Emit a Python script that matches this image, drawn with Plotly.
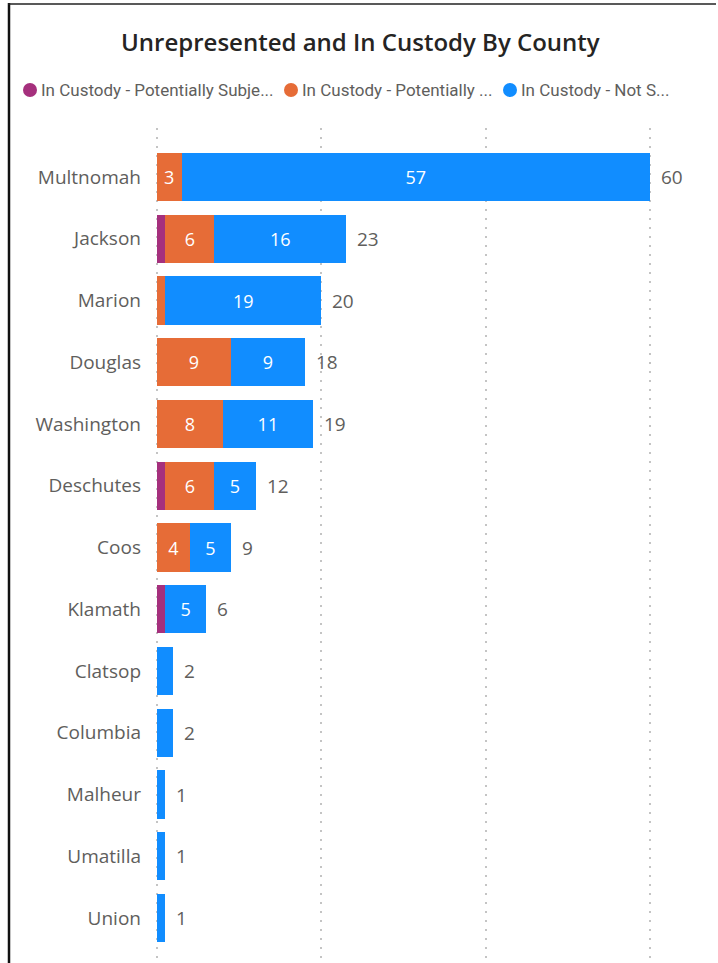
import plotly.graph_objects as go

counties = ["Multnomah", "Jackson", "Marion", "Douglas", "Washington", "Deschutes",
            "Coos", "Klamath", "Clatsop", "Columbia", "Malheur", "Umatilla", "Union"]
subject = [0, 1, 0, 0, 0, 1, 0, 1, 0, 0, 0, 0, 0]
potential = [3, 6, 1, 9, 8, 6, 4, 0, 0, 0, 0, 0, 0]
not_subject = [57, 16, 19, 9, 11, 5, 5, 5, 2, 2, 1, 1, 1]
legend_names = ["In Custody - Potentially Subje...", "In Custody - Potentially ...", "In Custody - Not S..."]
colors = ["#A5307D", "#E66C37", "#118DFF"]
totals = [a + b + c for a, b, c in zip(subject, potential, not_subject)]

W, H = 718, 963
L, R, T, B = 152, 63, 128, 0
pw, ph = W - L - R, H - T - B

def px_x(p):
    return (p - L) / pw

def px_y(p):
    return (H - B - p) / ph

fig = go.Figure()
for vals, name, col in zip([subject, potential, not_subject], legend_names, colors):
    fig.add_trace(go.Bar(
        y=counties, x=vals, orientation="h", name=name,
        marker=dict(color=col, line=dict(width=0)),
        text=[str(v) if v >= 3 else "" for v in vals],
        textposition="inside", insidetextanchor="middle", textangle=0,
        textfont=dict(color="white", size=18, family="Open Sans"),
        constraintext="none", showlegend=False,
    ))

annotations = []
for c, t in zip(counties, totals):
    annotations.append(dict(x=t, y=c, xref="x", yref="y", text=str(t), showarrow=False,
                            xanchor="left", xshift=9,
                            font=dict(size=19, color="#605E5C", family="Open Sans")))

annotations.append(dict(x=px_x(360), y=px_y(42), xref="paper", yref="paper",
                        text="Unrepresented and In Custody By County", showarrow=False,
                        xanchor="center", yanchor="middle",
                        font=dict(size=24, color="#252423", family="Open Sans", weight=600)))

shapes = []
leg_x = [30, 291, 510]
for lx, name, col in zip(leg_x, legend_names, colors):
    shapes.append(dict(type="circle", xref="paper", yref="paper",
                       x0=px_x(lx - 7), x1=px_x(lx + 7), y0=px_y(90 - 7), y1=px_y(90 + 7),
                       fillcolor=col, line=dict(width=0)))
    annotations.append(dict(x=px_x(lx + 9), y=px_y(90), xref="paper", yref="paper",
                            text=name, showarrow=False, xanchor="left", yanchor="middle",
                            font=dict(size=17, color="#605E5C", family="Roboto")))

# frame
shapes.append(dict(type="line", xref="paper", yref="paper", x0=px_x(9), x1=px_x(9),
                   y0=px_y(3), y1=px_y(963), line=dict(color="#111111", width=2.5)))
shapes.append(dict(type="line", xref="paper", yref="paper", x0=px_x(8), x1=px_x(716),
                   y0=px_y(4), y1=px_y(4), line=dict(color="#222222", width=1.5)))

n = len(counties)
top_pad = (177 - T) / 61.75
bot_pad = (H - B - 918) / 61.75
fig.update_layout(
    width=W, height=H, barmode="stack", bargap=0.22,
    margin=dict(l=L, r=R, t=T, b=B),
    plot_bgcolor="white", paper_bgcolor="white",
    annotations=annotations, shapes=shapes,
    xaxis=dict(range=[-0.6, 60.6], tickvals=[0, 20, 40, 60], showticklabels=False,
               showgrid=True, gridcolor="#C4C4C4", gridwidth=1.5, griddash="2px,7px",
               zeroline=False, showline=False, fixedrange=True),
    yaxis=dict(categoryorder="array", categoryarray=counties,
               range=[n - 1 + bot_pad, -top_pad], showgrid=False, zeroline=False,
               ticklabelstandoff=10, ticks="",
               tickfont=dict(size=19, color="#605E5C", family="Open Sans")),
    showlegend=False,
)
fig.write_html("out.html")
